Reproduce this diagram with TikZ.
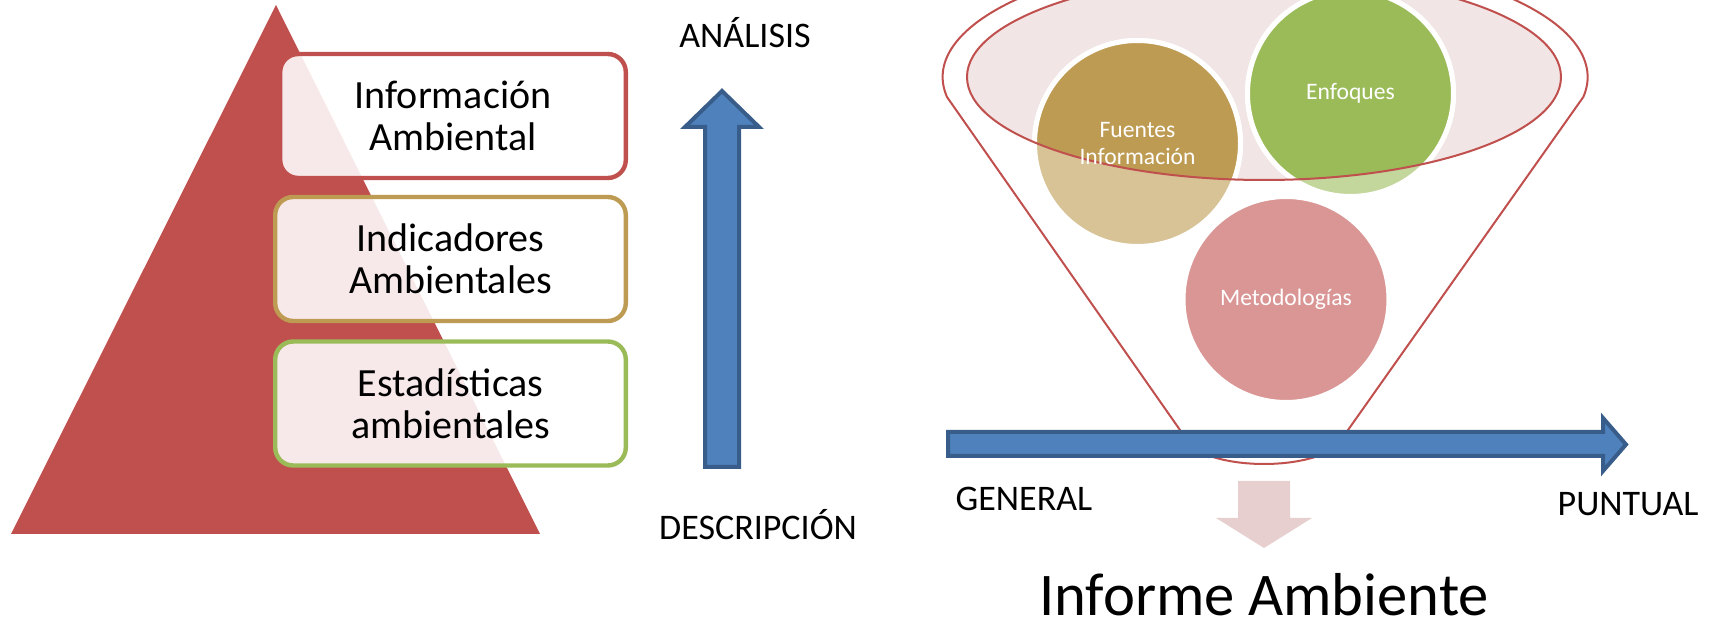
\documentclass[tikz,border=0pt]{standalone}
\usepackage{fontspec}
\setmainfont{Carlito}
\usepackage{xcolor}
\usetikzlibrary{calc}

\definecolor{rojo}{RGB}{192,80,77}
\definecolor{oro}{RGB}{190,155,82}
\definecolor{verde}{RGB}{155,187,89}
\definecolor{azul}{RGB}{79,129,189}
\definecolor{azuloscuro}{RGB}{56,93,138}
\definecolor{rosa}{RGB}{242,229,229}
\definecolor{rosaflecha}{RGB}{232,207,207}

\begin{document}
\begin{tikzpicture}[x=0.5pt,y=-0.5pt]
\useasboundingbox (0,0) rectangle (1715,630);

\tikzset{
    caja/.style = {
    rounded corners=9pt,
    line width=2.2pt,
    fill=white, fill opacity=0.88, text opacity=1,
    align=center,
    font=\fontsize{20}{21}\selectfont,
    minimum height=62pt,
    minimum width=175.3pt
    }
}

\tikzstyle{informacion}=[draw=rojo, caja]
\tikzstyle{indicadores}=[draw=oro, caja]
\tikzstyle{estadisticas}=[draw=verde, caja]
\tikzstyle{circulo}=[circle, draw=white, line width=2.5pt, minimum size=103pt, inner sep=0pt]
\tikzstyle{textocirc}=[text=white, align=center, font=\fontsize{11.8}{13.5}\selectfont]
\tikzstyle{etiqueta}=[font=\fontsize{18}{21}\selectfont, inner sep=0pt, anchor=base]
\tikzstyle{flecha}=[fill=azul, draw=azuloscuro, line width=2pt]
\tikzstyle{embudo}=[draw=rojo, line width=1pt]

% piramide
\fill[rojo] (276,5) -- (540,534) -- (11,534) -- cycle;

\node (caja-1) [informacion, minimum width=172.8pt] at (453,116) {Información\\Ambiental};
\node (caja-2) [indicadores] at (450.5,259) {Indicadores\\Ambientales};
\node (caja-3) [estadisticas] at (450.5,403.5) {Estadísticas\\ambientales};

% flecha vertical
\draw[flecha] (705,467) -- (705,127) -- (685,127) -- (722,91) -- (759,127)
    -- (739,127) -- (739,467) -- cycle;

\node (analisis) [etiqueta] at (745,48) {ANÁLISIS};
\node (descripcion) [etiqueta] at (758,540) {DESCRIPCIÓN};

% embudo
\draw[embudo] (947,97) arc[start angle=170.6, end angle=369.4, x radius=322.5, y radius=122]
    -- (1348,430) arc[start angle=0, end angle=180, x radius=84, y radius=34] -- cycle;
\fill[rosa] (1264,77) ellipse[x radius=297, y radius=103];

\node (circ-fuentes) [circulo, fill=oro!60] at (1137.5,143.5) {};
\node (circ-enfoques) [circulo, fill=verde!60] at (1350.5,93.5) {};
\node (circ-metodo) [circulo, fill=rojo!60] at (1286,299.5) {};

\begin{scope}
\clip (1264,77) ellipse[x radius=297, y radius=103];
\filldraw[fill=oro, draw=white, line width=2.5pt] (circ-fuentes.center) circle[radius=103];
\filldraw[fill=verde, draw=white, line width=2.5pt] (circ-enfoques.center) circle[radius=103];
\end{scope}

\draw[embudo] (1264,77) ellipse[x radius=297, y radius=103];

\node (txt-fuentes) [textocirc] at (circ-fuentes) {Fuentes\\Información};
\node (txt-enfoques) [textocirc] at (circ-enfoques) {Enfoques};
\node (txt-metodo) [textocirc] at (circ-metodo) {Metodologías};

% flecha horizontal
\draw[flecha] (948,432) -- (1603,432) -- (1603,418) -- (1626,444.5) -- (1603,471)
    -- (1603,456) -- (948,456) -- cycle;

\node (general) [etiqueta] at (1024,511) {GENERAL};
\node (puntual) [etiqueta] at (1628,516) {PUNTUAL};

% flecha hacia abajo
\fill[rosaflecha] (1238,481) -- (1290,481) -- (1290,518) -- (1312,518) -- (1264,548)
    -- (1216,518) -- (1238,518) -- cycle;

\node (informe) [font=\fontsize{30.3}{36}\selectfont, inner sep=0pt, anchor=base] at (1264,616) {Informe Ambiente};

\end{tikzpicture}
\end{document}
